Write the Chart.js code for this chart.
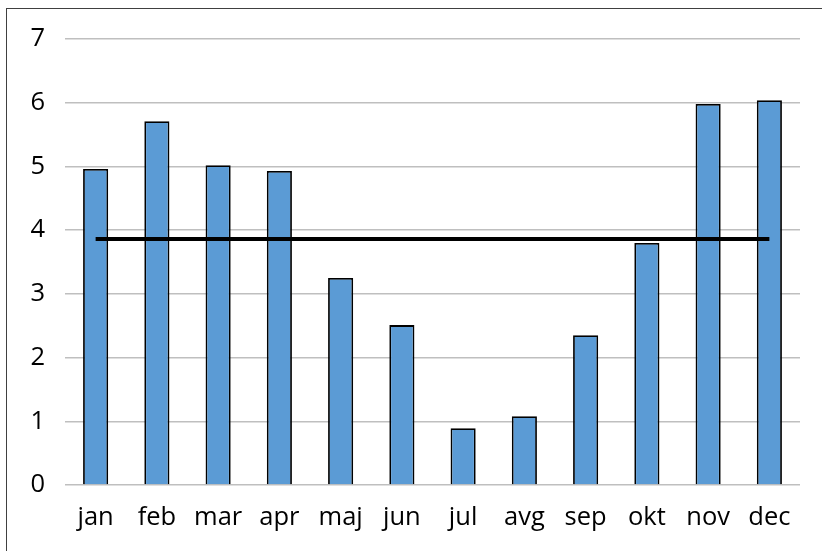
<!DOCTYPE html>
<html>
<head>
<meta charset="utf-8">
<script src="https://cdn.jsdelivr.net/npm/chart.js@4"></script>
<style>
  html, body { margin: 0; padding: 0; background: #fff; overflow: hidden; }
  #wrap { position: absolute; left: 0; top: 0; width: 822px; height: 551px; }
  #okvir { position: absolute; left: 6px; top: 8px; width: 900px; height: 700px;
           border-left: 1.5px solid #404040; border-top: 1.5px solid #404040; pointer-events: none; }
</style>
</head>
<body>
<div id="wrap"><canvas id="graf"></canvas></div>
<div id="okvir"></div>
<script>
// mesečni podatki
const meseci = ['jan', 'feb', 'mar', 'apr', 'maj', 'jun', 'jul', 'avg', 'sep', 'okt', 'nov', 'dec'];
const vrednosti = [4.96, 5.71, 5.02, 4.93, 3.25, 2.51, 0.89, 1.08, 2.35, 3.80, 5.98, 6.04];
const povprecje = [3.86, 3.86, 3.86, 3.86, 3.86, 3.86, 3.86, 3.86, 3.86, 3.86, 3.86, 3.86];
const yOznake = [0, 1, 2, 3, 4, 5, 6, 7];

const pisava = { family: "'Open Sans', sans-serif", size: 25.5 };

new Chart(document.getElementById('graf').getContext('2d'), {
    type: 'bar',
    data: {
        labels: meseci,
        datasets: [
            {
                type: 'line',
                data: povprecje,
                borderColor: '#000000',
                borderWidth: 4,
                pointRadius: 0,
                fill: false,
                order: 0
            },
            {
                data: vrednosti,
                backgroundColor: '#5B9BD5',
                borderColor: '#000000',
                borderWidth: 1.8,
                barPercentage: 0.41,
                categoryPercentage: 1,
                order: 1
            }
        ]
    },
    options: {
        responsive: true,
        maintainAspectRatio: false,
        animation: false,
        layout: { padding: { top: 39, right: 22, left: 0, bottom: 0 } },
        plugins: {
            legend: { display: false },
            tooltip: { enabled: false }
        },
        scales: {
            x: {
                grid: { display: false, drawTicks: false },
                border: { display: false },
                ticks: { color: '#000', font: pisava, padding: 17, maxRotation: 0 },
                afterFit: function (s) { s.height = 66; }
            },
            y: {
                min: 0,
                max: 7,
                afterBuildTicks: function (s) { s.ticks = yOznake.map(v => ({ value: v })); },
                grid: { color: '#BFBFBF', lineWidth: 1.5, drawTicks: false },
                border: { display: false },
                ticks: { color: '#000', font: pisava, padding: 20 },
                afterFit: function (s) { s.width = 65; }
            }
        }
    }
});
</script>
</body>
</html>
